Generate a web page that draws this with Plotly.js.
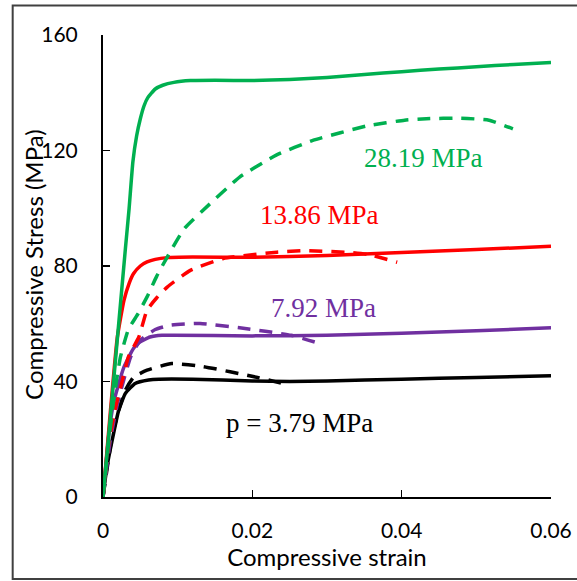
<!DOCTYPE html>
<html>
<head>
<meta charset="utf-8">
<script src="https://cdn.plot.ly/plotly-3.0.1.min.js"></script>
<style>html,body{margin:0;padding:0;background:#fff;}#chart{width:577px;height:581px;}</style>
</head>
<body>
<div id="chart"></div>
<script>
// Solid curves (model) and dashed curves (test), strain vs stress (MPa)
const greenSolidX = [0, 0.001, 0.002, 0.003, 0.0035, 0.004, 0.0045, 0.005, 0.0055, 0.006, 0.007, 0.008, 0.0095, 0.0117, 0.015, 0.02, 0.025, 0.03, 0.035, 0.04, 0.045, 0.05, 0.055, 0.06];
const greenSolidY = [0, 28, 57, 86, 100, 116, 125, 131, 135.5, 138.3, 141.3, 142.6, 143.6, 144.2, 144.3, 144.2, 144.6, 145.3, 146.3, 147.3, 148.2, 149, 149.8, 150.5];
const greenDashX = [0, 0.0008, 0.0015, 0.00234, 0.0034, 0.0047, 0.0059, 0.0072, 0.0086, 0.0109, 0.0141, 0.0183, 0.0232, 0.0281, 0.0355, 0.0404, 0.0433, 0.0478, 0.0517, 0.0549];
const greenDashY = [0, 20, 35, 48.5, 58, 63.5, 69.3, 76.5, 83.1, 93, 101, 110.8, 118.4, 123.5, 128.6, 130.5, 131, 131.2, 130.5, 127.5];

const redSolidX = [0, 0.001, 0.0019, 0.0028, 0.0035, 0.0041, 0.005, 0.0059, 0.007, 0.0086, 0.012, 0.02, 0.03, 0.04, 0.05, 0.06];
const redSolidY = [0, 30, 55, 68, 74, 77.4, 80, 81.4, 82.3, 82.9, 83.1, 83.0, 83.6, 84.7, 85.7, 86.8];
const redDashX = [0, 0.0008, 0.0017, 0.0026, 0.0034, 0.0048, 0.0059, 0.0072, 0.0086, 0.0117, 0.0161, 0.0233, 0.0271, 0.033, 0.0355, 0.0394];
const redDashY = [0, 19, 31.2, 40.5, 48.5, 55.4, 64.7, 69, 72.7, 78.5, 82.6, 84.8, 85.3, 84.7, 84, 81.3];

const purpleSolidX = [0, 0.0008, 0.0014, 0.0017, 0.0028, 0.0041, 0.0048, 0.0063, 0.0079, 0.0095, 0.02, 0.03, 0.04, 0.05, 0.06];
const purpleSolidY = [0, 22, 32.5, 35.5, 45, 51.5, 53.4, 55.4, 56, 56, 55.8, 56, 56.7, 57.6, 58.6];
const purpleDashX = [0, 0.001, 0.002, 0.0037, 0.005, 0.007, 0.009, 0.013, 0.0183, 0.0252, 0.0291];
const purpleDashY = [0, 20, 33, 48.5, 54.3, 58, 59.5, 60.1, 58.6, 56, 53.1];

const blackSolidX = [0, 0.0005, 0.00123, 0.0021, 0.003, 0.0043, 0.0061, 0.0075, 0.012, 0.02, 0.025, 0.03, 0.04, 0.05, 0.06];
const blackSolidY = [0, 10, 19.7, 30, 35.9, 39.3, 40.5, 40.8, 40.8, 40.2, 40, 40.2, 40.8, 41.4, 42];
const blackDashX = [0, 0.00078, 0.0012, 0.0021, 0.003, 0.0041, 0.0059, 0.0092, 0.01335, 0.0207, 0.0247];
const blackDashY = [0, 13.9, 20.9, 30, 37, 41.5, 43.9, 46.2, 45.2, 41.4, 38.9];

const xTicks = [0, 0.02, 0.04, 0.06];
const xTickText = ['0', '0.02', '0.04', '0.06'];
const yTicks = [0, 40, 80, 120, 160];
const yTickText = ['0', '40', '80', '120', '160'];

const xTitle = 'Compressive strain';
const yTitle = 'Compressive Stress (MPa)';

const labelTexts = ['28.19 MPa', '13.86 MPa', '7.92 MPa', 'p = 3.79 MPa'];
const labelX = [0.0429, 0.029, 0.0295, 0.0263];
const labelY = [117.4, 97.7, 65.6, 25.6];

const GREEN = '#00B050', RED = '#FF0000', PURPLE = '#7030A0', BLACK = '#000000';
const labelColors = [GREEN, RED, PURPLE, BLACK];

function tr(x, y, color, dashed) {
  return {
    x: x, y: y, type: 'scatter', mode: 'lines', hoverinfo: 'skip', showlegend: false,
    line: {color: color, width: 3.5, shape: 'spline', smoothing: 0.45, dash: dashed ? '13px,9px' : 'solid'}
  };
}

const data = [
  tr(blackSolidX, blackSolidY, BLACK, false),
  tr(blackDashX, blackDashY, BLACK, true),
  tr(purpleSolidX, purpleSolidY, PURPLE, false),
  tr(purpleDashX, purpleDashY, PURPLE, true),
  tr(redDashX, redDashY, RED, true),
  tr(redSolidX, redSolidY, RED, false),
  tr(greenDashX, greenDashY, GREEN, true),
  tr(greenSolidX, greenSolidY, GREEN, false)
];

const annotations = labelTexts.map((t, i) => ({
  x: labelX[i], y: labelY[i], xref: 'x', yref: 'y', text: t, showarrow: false,
  xanchor: 'center', yanchor: 'middle',
  font: {family: 'Liberation Serif, Times New Roman, serif', size: 27, color: labelColors[i]}
}));
// y-axis title drawn as a rotated text annotation for exact placement
annotations.push({
  x: -0.1548, y: 0.5016, xref: 'paper', yref: 'paper', text: yTitle, showarrow: false,
  textangle: -90, xanchor: 'center', yanchor: 'middle',
  font: {family: 'Lato, sans-serif', size: 24, color: '#000'}
});

const layout = {
  width: 577, height: 581,
  margin: {l: 102.5, r: 25.5, t: 34.5, b: 84, pad: 0},
  paper_bgcolor: '#ffffff', plot_bgcolor: '#ffffff',
  font: {family: 'Lato, sans-serif', color: '#000'},
  xaxis: {
    range: [0, 0.06], tickvals: xTicks, ticktext: xTickText,
    showgrid: false, zeroline: false, showline: true, linecolor: '#000', linewidth: 2,
    ticks: 'inside', ticklen: 7, tickwidth: 1.5, tickcolor: '#000',
    tickfont: {family: 'Lato, sans-serif', size: 21, color: '#000'},
    ticklabelstandoff: 14,
    title: {text: xTitle, font: {family: 'Lato, sans-serif', size: 24, color: '#000'}, standoff: 5}
  },
  yaxis: {
    range: [0, 160], tickvals: yTicks, ticktext: yTickText,
    showgrid: false, zeroline: false, showline: true, linecolor: '#000', linewidth: 2,
    ticks: 'inside', ticklen: 7, tickwidth: 1.5, tickcolor: '#000',
    tickfont: {family: 'Lato, sans-serif', size: 21, color: '#000'},
    ticklabelstandoff: 19
  },
  annotations: annotations,
  shapes: [{
    type: 'rect', xref: 'paper', yref: 'paper', layer: 'above',
    x0: -0.2016, x1: 1.08, y0: -0.1775, y1: 1.0638,
    line: {color: '#404040', width: 2}
  }]
};

Plotly.newPlot('chart', data, layout, {displayModeBar: false, staticPlot: true});
</script>
</body>
</html>
